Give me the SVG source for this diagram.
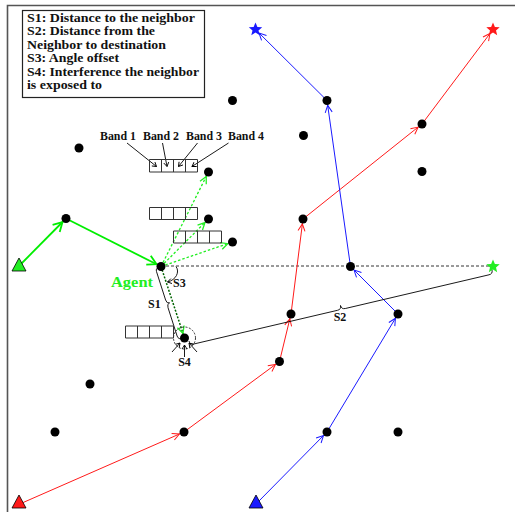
<svg xmlns="http://www.w3.org/2000/svg" width="515" height="512" viewBox="0 0 515 512">
<style>
.node{fill:#000}
.lbl{font-family:"Liberation Serif",serif;font-weight:bold;fill:#111}
.red{stroke:#ff1a1a;stroke-width:1;fill:none}
.blue{stroke:#1a1aff;stroke-width:1;fill:none}
.grn{stroke:#00ee00;stroke-width:1.8;fill:none}
.lg{stroke:#22ee22;stroke-width:1.3;stroke-dasharray:2.5,2;fill:none}
.dg{stroke:#006400;stroke-width:1.5;stroke-dasharray:2,1.5;fill:none}
.blk{stroke:#000;stroke-width:0.9;fill:none}
.band{fill:none;stroke:#333;stroke-width:1}
</style>
<defs>
<marker id="aR" markerUnits="userSpaceOnUse" markerWidth="20" markerHeight="20" refX="5" refY="0" orient="auto" overflow="visible"><path d="M-7,-3.5 L0,0 L-7,3.5" fill="none" stroke="#ff1a1a" stroke-width="1"/></marker>
<marker id="aB" markerUnits="userSpaceOnUse" markerWidth="20" markerHeight="20" refX="5" refY="0" orient="auto" overflow="visible"><path d="M-7,-3.5 L0,0 L-7,3.5" fill="none" stroke="#1a1aff" stroke-width="1"/></marker>
<marker id="aG" markerUnits="userSpaceOnUse" markerWidth="20" markerHeight="20" refX="5" refY="0" orient="auto" overflow="visible"><path d="M-9,-5 L0,0 L-9,5" fill="none" stroke="#00ee00" stroke-width="1.8"/></marker>
<marker id="aL" markerUnits="userSpaceOnUse" markerWidth="20" markerHeight="20" refX="5" refY="0" orient="auto" overflow="visible"><path d="M-7,-3.5 L0,0 L-7,3.5" fill="none" stroke="#22ee22" stroke-width="1.3"/></marker>
<marker id="aK" markerUnits="userSpaceOnUse" markerWidth="20" markerHeight="20" refX="0" refY="0" orient="auto" overflow="visible"><path d="M-4,-2.5 L0,0 L-4,2.5" fill="none" stroke="#000" stroke-width="0.9"/></marker>
<path id="star" d="M0,-7 L1.9,-2.4 L6.7,-2.2 L3,1 L4.2,5.7 L0,3 L-4.2,5.7 L-3,1 L-6.7,-2.2 L-1.9,-2.4 Z"/>
<path id="tri" d="M0,-7 L7,6 L-7,6 Z" stroke="#000" stroke-width="0.8"/>
</defs>
<rect width="515" height="512" fill="#fff"/>
<path d="M7.5,512 V5.5 H515" fill="none" stroke="#555" stroke-width="1.6"/>

<g id="legend">
<rect x="22.5" y="10.5" width="182" height="87" fill="#fff" stroke="#222" stroke-width="1.2"/>
<text class="lbl" font-size="12.5" x="27" y="21.5" textLength="168" lengthAdjust="spacingAndGlyphs">S1: Distance to the neighbor</text>
<text class="lbl" font-size="12.5" x="27" y="35" textLength="128" lengthAdjust="spacingAndGlyphs">S2: Distance from the</text>
<text class="lbl" font-size="12.5" x="27" y="48.5" textLength="139" lengthAdjust="spacingAndGlyphs">Neighbor to destination</text>
<text class="lbl" font-size="12.5" x="27" y="62" textLength="92" lengthAdjust="spacingAndGlyphs">S3: Angle offset</text>
<text class="lbl" font-size="12.5" x="27" y="75.5" textLength="172" lengthAdjust="spacingAndGlyphs">S4: Interference the neighbor</text>
<text class="lbl" font-size="12.5" x="27" y="89" textLength="75" lengthAdjust="spacingAndGlyphs">is exposed to</text>
</g>

<g id="connectors">
<line x1="161" y1="266" x2="493" y2="266" stroke="#000" stroke-width="0.8" stroke-dasharray="3,2"/>
<line class="red" x1="22" y1="503" x2="184" y2="432" marker-end="url(#aR)"/>
<line class="red" x1="184" y1="432" x2="279.5" y2="361.5" marker-end="url(#aR)"/>
<line class="red" x1="279.5" y1="361.5" x2="291" y2="314" marker-end="url(#aR)"/>
<line class="red" x1="291" y1="314" x2="303" y2="219" marker-end="url(#aR)"/>
<line class="red" x1="303" y1="219" x2="422" y2="124" marker-end="url(#aR)"/>
<line class="red" x1="422" y1="124" x2="493" y2="29.5" marker-end="url(#aR)"/>
<line class="blue" x1="258" y1="502" x2="327" y2="432" marker-end="url(#aB)"/>
<line class="blue" x1="327" y1="432" x2="398" y2="314" marker-end="url(#aB)"/>
<line class="blue" x1="398" y1="314" x2="350.5" y2="266.5" marker-end="url(#aB)"/>
<line class="blue" x1="350.5" y1="266.5" x2="327" y2="100.5" marker-end="url(#aB)"/>
<line class="blue" x1="327" y1="100.5" x2="255.5" y2="29.5" marker-end="url(#aB)"/>
<line class="grn" x1="20" y1="265" x2="66" y2="218.5" marker-end="url(#aG)"/>
<line class="grn" x1="66" y1="218.5" x2="161" y2="266.5" marker-end="url(#aG)"/>
<line class="lg" x1="161" y1="266.5" x2="208.5" y2="172" marker-end="url(#aL)"/>
<line class="lg" x1="161" y1="266.5" x2="208.5" y2="219" marker-end="url(#aL)"/>
<line class="lg" x1="161" y1="266.5" x2="232.5" y2="242" marker-end="url(#aL)"/>
<line class="dg" x1="161" y1="266.5" x2="184.5" y2="338" marker-end="url(#aL)"/>
<path class="blk" d="M189,341 Q189.9,344.9 193.8,344 L337.5,310.3 Q341.4,309.4 340.5,305.5 Q341.4,309.4 345.3,308.5 L489,274.8 Q492.9,273.9 492,270"/>
<path class="blk" d="M160,267 Q155.3,267.8 156.5,271.6 L165.6,300 Q166.8,303.8 169.6,302.9 Q166.8,303.8 168,307.6 L177.1,336 Q178.3,339.8 183,338.5"/>
<path class="blk" d="M176,266.5 C180,272 176,280 167.5,282" marker-end="url(#aK)"/>
<circle cx="184.5" cy="338" r="11" fill="none" stroke="#000" stroke-width="0.8" stroke-dasharray="2,1.5"/>
<line class="blk" x1="172" y1="352" x2="180" y2="343" marker-end="url(#aK)"/>
<line class="blk" x1="184.5" y1="357" x2="184.5" y2="345" marker-end="url(#aK)"/>
<line class="blk" x1="197" y1="352" x2="189" y2="343" marker-end="url(#aK)"/>
<line class="blk" x1="127" y1="143" x2="156.5" y2="166.5" marker-end="url(#aK)"/>
<line class="blk" x1="162.5" y1="143" x2="167" y2="166.5" marker-end="url(#aK)"/>
<line class="blk" x1="197.5" y1="143" x2="178.5" y2="166.5" marker-end="url(#aK)"/>
<line class="blk" x1="228.5" y1="143" x2="192" y2="166.5" marker-end="url(#aK)"/>
</g>

<g id="bands">
<path class="band" d="M149.5,159.5 h48 v12.5 h-48 Z M161.5,159.5 v12.5 M173.5,159.5 v12.5 M185.5,159.5 v12.5"/>
<path class="band" d="M149.5,207.5 h48 v12 h-48 Z M161.5,207.5 v12 M173.5,207.5 v12 M185.5,207.5 v12"/>
<path class="band" d="M173.5,231 h48 v12 h-48 Z M185.5,231 v12 M197.5,231 v12 M209.5,231 v12"/>
<path class="band" d="M125.5,326 h48 v12 h-48 Z M137.5,326 v12 M149.5,326 v12 M161.5,326 v12"/>
<text class="lbl" font-size="11.5" x="100" y="140" textLength="36" lengthAdjust="spacingAndGlyphs">Band 1</text>
<text class="lbl" font-size="11.5" x="143" y="140" textLength="36" lengthAdjust="spacingAndGlyphs">Band 2</text>
<text class="lbl" font-size="11.5" x="186" y="140" textLength="36" lengthAdjust="spacingAndGlyphs">Band 3</text>
<text class="lbl" font-size="11.5" x="228" y="140" textLength="36" lengthAdjust="spacingAndGlyphs">Band 4</text>
</g>

<g id="labels">
<text class="lbl" font-size="15" x="111" y="287" style="fill:#22ee22" textLength="42" lengthAdjust="spacingAndGlyphs">Agent</text>
<text class="lbl" font-size="12" x="148" y="308">S1</text>
<text class="lbl" font-size="12" x="340" y="321" text-anchor="middle">S2</text>
<text class="lbl" font-size="12" x="173" y="287">S3</text>
<text class="lbl" font-size="12" x="184.5" y="366" text-anchor="middle">S4</text>
</g>

<g id="n1"><circle class="node" cx="232.5" cy="100.5" r="4.5"/></g>
<g id="n2"><circle class="node" cx="327" cy="100.5" r="4.5"/></g>
<g id="n3"><circle class="node" cx="79" cy="148" r="4.5"/></g>
<g id="n4"><circle class="node" cx="303.5" cy="135.5" r="4.5"/></g>
<g id="n5"><circle class="node" cx="422" cy="124" r="4.5"/></g>
<g id="n6"><circle class="node" cx="208.5" cy="172" r="4.5"/></g>
<g id="n7"><circle class="node" cx="422" cy="171.5" r="4.5"/></g>
<g id="n8"><circle class="node" cx="66" cy="218.5" r="4.5"/></g>
<g id="n9"><circle class="node" cx="208.5" cy="219" r="4.5"/></g>
<g id="n10"><circle class="node" cx="303" cy="219" r="4.5"/></g>
<g id="n11"><circle class="node" cx="232.5" cy="242" r="4.5"/></g>
<g id="agent"><circle class="node" cx="161" cy="266.5" r="4.5"/></g>
<g id="n13"><circle class="node" cx="350.5" cy="266.5" r="4.5"/></g>
<g id="n14"><circle class="node" cx="291" cy="314" r="4.5"/></g>
<g id="n15"><circle class="node" cx="398" cy="314" r="4.5"/></g>
<g id="neighbor"><circle class="node" cx="184.5" cy="338" r="4.5"/></g>
<g id="n17"><circle class="node" cx="90" cy="384" r="4.5"/></g>
<g id="n18"><circle class="node" cx="279.5" cy="361.5" r="4.5"/></g>
<g id="n19"><circle class="node" cx="55" cy="432" r="4.5"/></g>
<g id="n20"><circle class="node" cx="184" cy="432" r="4.5"/></g>
<g id="n21"><circle class="node" cx="327" cy="432" r="4.5"/></g>
<g id="n22"><circle class="node" cx="398" cy="432" r="4.5"/></g>

<g id="dest-blue"><use href="#star" x="255.5" y="29.5" fill="#1a1aff"/></g>
<g id="dest-red"><use href="#star" x="493" y="29.5" fill="#ff1a1a"/></g>
<g id="dest-green"><use href="#star" x="493" y="266.5" fill="#22ee22"/></g>
<g id="src-green"><use href="#tri" x="19" y="265" fill="#22ee22"/></g>
<g id="src-red"><use href="#tri" x="19" y="502" fill="#ff1a1a"/></g>
<g id="src-blue"><use href="#tri" x="256" y="502" fill="#1a1aff"/></g>
</svg>
